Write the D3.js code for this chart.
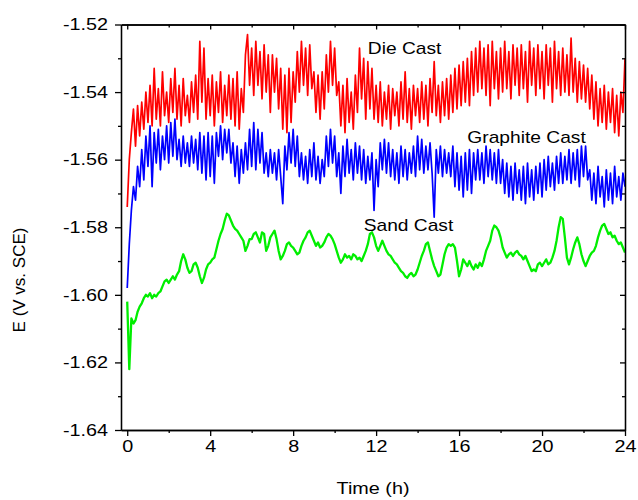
<!DOCTYPE html>
<html>
<head>
<meta charset="utf-8">
<script src="https://cdn.jsdelivr.net/npm/d3@7"></script>
<style>
  body { margin: 0; background: #fff; }
  text { font-family: Arial, "Liberation Sans", Helvetica, sans-serif; }
</style>
</head>
<body>
<div id="chart"></div>
<script>
// readings every 0.1 h, from 0 to 24 h (one row per hour)
var timeStep = 0.1;

var dieCast = [
  -1.574,-1.560,-1.552,-1.545,-1.556,-1.544,-1.553,-1.543,-1.551,-1.540,
  -1.549,-1.538,-1.550,-1.533,-1.548,-1.539,-1.550,-1.534,-1.547,-1.540,
  -1.549,-1.536,-1.546,-1.533,-1.548,-1.538,-1.550,-1.536,-1.547,-1.541,
  -1.549,-1.537,-1.546,-1.535,-1.548,-1.525,-1.543,-1.527,-1.548,-1.536,
  -1.547,-1.535,-1.550,-1.537,-1.546,-1.534,-1.549,-1.538,-1.547,-1.535,
  -1.548,-1.536,-1.550,-1.534,-1.551,-1.539,-1.546,-1.529,-1.523,-1.538,
  -1.527,-1.541,-1.525,-1.538,-1.528,-1.542,-1.526,-1.540,-1.529,-1.546,
  -1.529,-1.540,-1.530,-1.545,-1.533,-1.551,-1.535,-1.552,-1.533,-1.549,
  -1.534,-1.543,-1.528,-1.540,-1.525,-1.538,-1.527,-1.541,-1.526,-1.539,
  -1.534,-1.546,-1.535,-1.548,-1.534,-1.545,-1.529,-1.540,-1.525,-1.538,
  -1.527,-1.541,-1.537,-1.550,-1.538,-1.552,-1.536,-1.549,-1.540,-1.551,
  -1.535,-1.546,-1.527,-1.542,-1.530,-1.548,-1.531,-1.545,-1.533,-1.548,
  -1.538,-1.549,-1.537,-1.550,-1.540,-1.548,-1.538,-1.551,-1.539,-1.547,
  -1.540,-1.550,-1.537,-1.548,-1.534,-1.549,-1.539,-1.551,-1.538,-1.547,
  -1.539,-1.549,-1.537,-1.548,-1.538,-1.550,-1.536,-1.546,-1.531,-1.547,
  -1.538,-1.549,-1.537,-1.547,-1.536,-1.548,-1.535,-1.546,-1.533,-1.545,
  -1.532,-1.544,-1.531,-1.543,-1.530,-1.544,-1.528,-1.541,-1.527,-1.540,
  -1.525,-1.539,-1.527,-1.541,-1.526,-1.544,-1.525,-1.539,-1.528,-1.542,
  -1.527,-1.540,-1.525,-1.539,-1.528,-1.542,-1.526,-1.538,-1.527,-1.541,
  -1.526,-1.539,-1.528,-1.543,-1.525,-1.538,-1.527,-1.541,-1.526,-1.539,
  -1.528,-1.542,-1.526,-1.538,-1.527,-1.543,-1.525,-1.539,-1.528,-1.541,
  -1.527,-1.540,-1.529,-1.541,-1.524,-1.540,-1.530,-1.543,-1.531,-1.542,
  -1.532,-1.543,-1.533,-1.545,-1.535,-1.548,-1.537,-1.550,-1.539,-1.549,
  -1.538,-1.551,-1.540,-1.549,-1.539,-1.552,-1.541,-1.553,-1.540,-1.546,
  -1.530
];

var graphiteCast = [
  -1.598,-1.585,-1.575,-1.568,-1.572,-1.562,-1.568,-1.557,-1.566,-1.553,
  -1.562,-1.550,-1.568,-1.552,-1.561,-1.551,-1.563,-1.553,-1.560,-1.550,
  -1.561,-1.549,-1.559,-1.548,-1.560,-1.554,-1.562,-1.553,-1.561,-1.555,
  -1.562,-1.553,-1.561,-1.554,-1.563,-1.552,-1.564,-1.553,-1.566,-1.552,
  -1.565,-1.553,-1.567,-1.552,-1.559,-1.550,-1.560,-1.551,-1.558,-1.551,
  -1.561,-1.555,-1.565,-1.556,-1.567,-1.557,-1.564,-1.555,-1.563,-1.551,
  -1.562,-1.549,-1.563,-1.551,-1.561,-1.552,-1.564,-1.558,-1.565,-1.557,
  -1.564,-1.558,-1.566,-1.557,-1.565,-1.573,-1.556,-1.563,-1.552,-1.561,
  -1.551,-1.562,-1.553,-1.565,-1.558,-1.566,-1.559,-1.567,-1.557,-1.565,
  -1.555,-1.566,-1.559,-1.567,-1.560,-1.565,-1.553,-1.562,-1.551,-1.561,
  -1.553,-1.565,-1.558,-1.570,-1.556,-1.565,-1.554,-1.564,-1.557,-1.566,
  -1.555,-1.564,-1.556,-1.566,-1.557,-1.567,-1.559,-1.566,-1.558,-1.575,
  -1.560,-1.568,-1.555,-1.563,-1.554,-1.564,-1.555,-1.565,-1.557,-1.566,
  -1.558,-1.567,-1.556,-1.565,-1.557,-1.566,-1.558,-1.564,-1.556,-1.565,
  -1.553,-1.563,-1.554,-1.564,-1.556,-1.563,-1.555,-1.564,-1.577,-1.557,
  -1.564,-1.556,-1.565,-1.557,-1.564,-1.558,-1.565,-1.556,-1.568,-1.558,
  -1.569,-1.559,-1.571,-1.558,-1.569,-1.557,-1.570,-1.558,-1.566,-1.557,
  -1.566,-1.558,-1.567,-1.556,-1.565,-1.557,-1.566,-1.558,-1.567,-1.557,
  -1.567,-1.560,-1.570,-1.561,-1.571,-1.562,-1.572,-1.561,-1.570,-1.563,
  -1.572,-1.562,-1.573,-1.561,-1.571,-1.563,-1.572,-1.562,-1.570,-1.561,
  -1.571,-1.560,-1.569,-1.559,-1.568,-1.561,-1.569,-1.559,-1.567,-1.558,
  -1.567,-1.559,-1.566,-1.557,-1.567,-1.558,-1.566,-1.557,-1.568,-1.556,
  -1.565,-1.556,-1.566,-1.563,-1.572,-1.564,-1.573,-1.562,-1.571,-1.565,
  -1.574,-1.563,-1.572,-1.564,-1.573,-1.562,-1.571,-1.565,-1.572,-1.564,
  -1.568
];

var sandCast = [
  -1.602,-1.622,-1.607,-1.6085,-1.6075,-1.605,-1.6035,-1.6025,-1.601,-1.600,
  -1.6005,-1.5995,-1.601,-1.600,-1.6005,-1.5995,-1.599,-1.5975,-1.596,-1.5955,
  -1.5965,-1.5955,-1.5945,-1.5955,-1.594,-1.593,-1.590,-1.588,-1.5895,-1.592,
  -1.5935,-1.593,-1.591,-1.5905,-1.592,-1.5945,-1.5965,-1.595,-1.5925,-1.591,
  -1.5905,-1.5895,-1.589,-1.5865,-1.584,-1.582,-1.5805,-1.578,-1.576,-1.5765,
  -1.578,-1.5795,-1.5805,-1.581,-1.582,-1.583,-1.584,-1.587,-1.5855,-1.5835,
  -1.5835,-1.582,-1.5815,-1.583,-1.5845,-1.5815,-1.582,-1.587,-1.5855,-1.583,
  -1.582,-1.581,-1.5835,-1.587,-1.5895,-1.5885,-1.587,-1.585,-1.5845,-1.5855,
  -1.586,-1.587,-1.588,-1.5875,-1.5855,-1.584,-1.583,-1.5815,-1.581,-1.5825,
  -1.584,-1.5855,-1.5845,-1.586,-1.5855,-1.5845,-1.583,-1.582,-1.5825,-1.5835,
  -1.585,-1.587,-1.589,-1.5905,-1.5895,-1.588,-1.589,-1.5885,-1.5895,-1.588,
  -1.5885,-1.5895,-1.589,-1.590,-1.5885,-1.587,-1.585,-1.582,-1.5815,-1.583,
  -1.5855,-1.587,-1.5855,-1.584,-1.5855,-1.587,-1.588,-1.5885,-1.5895,-1.5905,
  -1.591,-1.592,-1.593,-1.5935,-1.5945,-1.595,-1.594,-1.5935,-1.5945,-1.594,
  -1.5925,-1.5905,-1.5885,-1.587,-1.585,-1.5845,-1.587,-1.5895,-1.5915,-1.593,
  -1.5945,-1.594,-1.591,-1.588,-1.586,-1.585,-1.5855,-1.585,-1.586,-1.590,
  -1.5945,-1.5925,-1.5895,-1.5905,-1.5915,-1.590,-1.5915,-1.5925,-1.591,-1.592,
  -1.5905,-1.5915,-1.5895,-1.587,-1.5855,-1.584,-1.581,-1.5795,-1.580,-1.581,
  -1.583,-1.586,-1.5875,-1.589,-1.588,-1.5875,-1.5885,-1.5875,-1.587,-1.588,
  -1.5885,-1.5895,-1.5885,-1.590,-1.5915,-1.593,-1.5925,-1.593,-1.591,-1.5905,
  -1.5915,-1.5905,-1.5895,-1.591,-1.5905,-1.589,-1.587,-1.584,-1.580,-1.577,
  -1.5775,-1.583,-1.589,-1.591,-1.589,-1.5865,-1.5845,-1.583,-1.585,-1.588,
  -1.590,-1.5915,-1.590,-1.5885,-1.5875,-1.587,-1.5855,-1.583,-1.581,-1.5795,
  -1.579,-1.5805,-1.582,-1.5815,-1.583,-1.5825,-1.584,-1.585,-1.5845,-1.586,
  -1.5875
];

var seriesNames = ["Die Cast", "Graphite Cast", "Sand Cast"];
var seriesColors = ["#ff0000", "#0000ff", "#00ee00"];
var xTicks = [0, 4, 8, 12, 16, 20, 24];
var xMinorTicks = [2, 6, 10, 14, 18, 22];
var yTicks = [-1.64, -1.62, -1.60, -1.58, -1.56, -1.54, -1.52];
var yMinorTicks = [-1.63, -1.61, -1.59, -1.57, -1.55, -1.53];

var width = 638, height = 500;
var margin = {top: 24.5, right: 13, bottom: 70, left: 121};
var stretch = 1.2; // the original lettering is a bit wide

var svg = d3.select("#chart").append("svg")
    .attr("width", width)
    .attr("height", height);

var x = d3.scaleLinear().domain([-0.3, 24]).range([margin.left, width - margin.right]);
var y = d3.scaleLinear().domain([-1.64, -1.52]).range([height - margin.bottom, margin.top]);

svg.append("clipPath").attr("id", "plotClip")
  .append("rect")
    .attr("x", margin.left).attr("y", margin.top)
    .attr("width", width - margin.left - margin.right)
    .attr("height", height - margin.top - margin.bottom);

var line = d3.line()
    .x(function(d, i) { return x(i * timeStep); })
    .y(function(d) { return y(d); });

var lines = svg.append("g").attr("clip-path", "url(#plotClip)");
[dieCast, graphiteCast, sandCast].forEach(function(s, k) {
  lines.append("path")
      .datum(s)
      .attr("fill", "none")
      .attr("stroke", seriesColors[k])
      .attr("stroke-width", k == 2 ? 2.3 : 1.7)
      .attr("stroke-linejoin", "round")
      .attr("d", line);
});

// axes: left and bottom carry labels, top and right are plain mirrors
function styleAxis(g) {
  g.selectAll("path, line").attr("stroke", "#000").attr("stroke-width", 1.3);
  g.attr("font-family", null).attr("font-size", null);
}

var bottom = height - margin.bottom;
var right = width - margin.right;

svg.append("g").attr("transform", "translate(0," + bottom + ")")
    .call(d3.axisBottom(x).tickValues(xMinorTicks).tickSize(3).tickSizeOuter(0).tickFormat(""))
    .call(styleAxis);
svg.append("g").attr("transform", "translate(0," + bottom + ")")
    .call(d3.axisBottom(x).tickValues(xTicks).tickSize(6).tickSizeOuter(0).tickPadding(4))
    .call(styleAxis)
    .selectAll("text")
      .attr("fill", "#000")
      .style("font-size", "16.5px")
      .attr("transform", "scale(" + stretch + ",1)");

svg.append("g").attr("transform", "translate(" + margin.left + ",0)")
    .call(d3.axisLeft(y).tickValues(yMinorTicks).tickSize(3).tickSizeOuter(0).tickFormat(""))
    .call(styleAxis);
svg.append("g").attr("transform", "translate(" + margin.left + ",0)")
    .call(d3.axisLeft(y).tickValues(yTicks).tickSize(6).tickSizeOuter(0)
      .tickFormat(function(d) { return d.toFixed(2); }))
    .call(styleAxis)
    .selectAll("text")
      .attr("fill", "#000")
      .style("font-size", "16.5px")
      .attr("x", -13 / stretch)
      .attr("transform", "scale(" + stretch + ",1)");

svg.append("g").attr("transform", "translate(0," + margin.top + ")")
    .call(d3.axisTop(x).tickValues(xTicks).tickSize(-5).tickSizeOuter(0).tickFormat(""))
    .call(styleAxis);
svg.append("g").attr("transform", "translate(0," + margin.top + ")")
    .call(d3.axisTop(x).tickValues(xMinorTicks).tickSize(-3).tickSizeOuter(0).tickFormat(""))
    .call(styleAxis);
svg.append("g").attr("transform", "translate(" + right + ",0)")
    .call(d3.axisRight(y).tickValues(yTicks).tickSize(-5).tickSizeOuter(0).tickFormat(""))
    .call(styleAxis);
svg.append("g").attr("transform", "translate(" + right + ",0)")
    .call(d3.axisRight(y).tickValues(yMinorTicks).tickSize(-3).tickSizeOuter(0).tickFormat(""))
    .call(styleAxis);

// axis titles
svg.append("text")
    .attr("transform", "translate(" + ((margin.left + right) / 2) + ",494) scale(" + stretch + ",1)")
    .attr("text-anchor", "middle")
    .style("font-size", "16.5px")
    .text("Time (h)");

svg.append("text")
    .attr("transform", "translate(25,280) rotate(-90)")
    .attr("text-anchor", "middle")
    .style("font-size", "17px")
    .text("E (V vs. SCE)");

// series labels next to their curves (left end of the text)
var labelSpots = [[11.6, -1.5287], [16.4, -1.5552], [11.4, -1.5810]];
seriesNames.forEach(function(name, k) {
  svg.append("text")
      .attr("transform", "translate(" + x(labelSpots[k][0]) + "," + y(labelSpots[k][1]) + ") scale(" + stretch + ",1)")
      .style("font-size", "16px")
      .attr("fill", "#000")
      .text(name);
});
</script>
</body>
</html>
